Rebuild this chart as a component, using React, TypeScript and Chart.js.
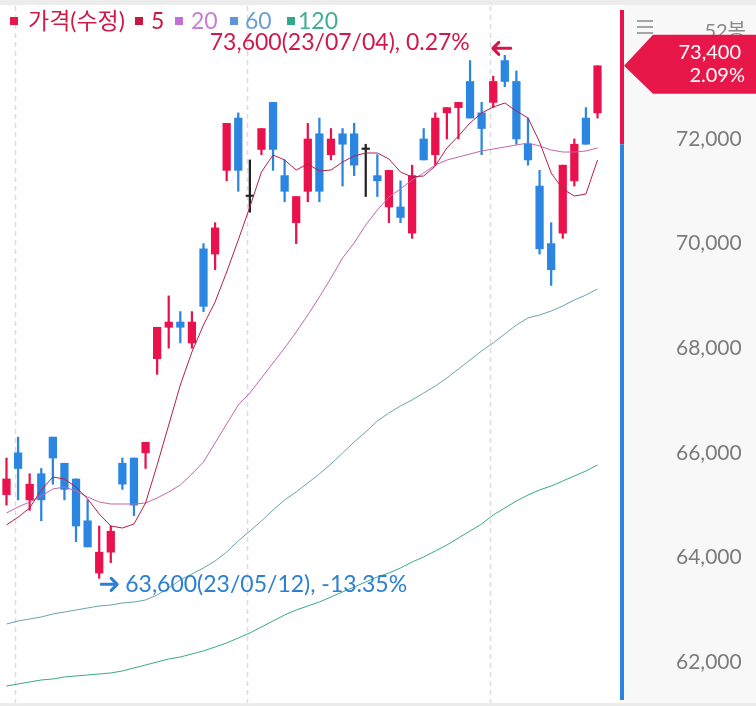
import React, { useEffect, useRef } from 'react';
import { Chart, registerables } from 'chart.js';

Chart.register(...registerables);

// ---- data ----
const dates = [
  '04/28',
  '05/02', '05/03', '05/04', '05/08', '05/09', '05/10', '05/11', '05/12', '05/15', '05/16',
  '05/17', '05/18', '05/19', '05/22', '05/23', '05/24', '05/25', '05/26', '05/30', '05/31',
  '06/01', '06/02', '06/05', '06/07', '06/08', '06/09', '06/12', '06/13', '06/14', '06/15',
  '06/16', '06/19', '06/20', '06/21', '06/22', '06/23', '06/26', '06/27', '06/28', '06/29', '06/30',
  '07/03', '07/04', '07/05', '07/06', '07/07', '07/10', '07/11', '07/12', '07/13', '07/14',
];

const opens = [
  65200, 66000, 65100, 65600, 66300, 65800, 65500, 64700, 63700, 64100,
  65800, 65900, 66000, 67800, 68400, 68500, 68100, 69900, 69800, 71400,
  72400, 70900, 71800, 72700, 71300, 70400, 71000, 72100, 71700, 72100,
  72100, 71800, 71300, 70700, 70700, 70200, 72000, 71700, 72500, 72600,
  73100, 72500, 72700, 73500, 73100, 71900, 71100, 70000, 70200, 71200,
  72400, 72500,
];
const highs = [
  65900, 66300, 65600, 65700, 66300, 65800, 65500, 65100, 64600, 64600,
  65900, 65900, 66200, 68400, 69000, 68700, 68700, 70000, 70400, 72300,
  72500, 71600, 72200, 72700, 71600, 70900, 72300, 72400, 72200, 72200,
  72300, 71900, 71700, 71400, 71200, 71500, 72200, 72500, 72600, 72700,
  73500, 72700, 73200, 73600, 73300, 72400, 71400, 70400, 71500, 72000,
  72600, 73400,
];
const lows = [
  65000, 65100, 64900, 64700, 65400, 65100, 64300, 64200, 63600, 63900,
  65300, 64800, 65700, 67500, 68000, 68100, 68000, 68700, 69500, 71200,
  71000, 70600, 71700, 71400, 70800, 70000, 70800, 70800, 71600, 71100,
  71300, 70900, 70900, 70400, 70400, 70100, 71600, 71500, 72000, 72000,
  72400, 71700, 72600, 73000, 71900, 71500, 69800, 69200, 70100, 71100,
  71900, 72400,
];
const closes = [
  65500, 65700, 65400, 65100, 65900, 65300, 64600, 64200, 64100, 64500,
  65400, 65000, 66200, 68400, 68500, 68400, 68500, 68800, 70300, 72300,
  71400, 70900, 72200, 71800, 71000, 70900, 72000, 71000, 72000, 71900,
  71500, 71800, 71200, 71400, 70500, 71300, 71600, 72400, 72600, 72700,
  72400, 72200, 73100, 73100, 72000, 71600, 69900, 69500, 71500, 71900,
  71900, 73400,
];

const ma5 = [
  64620, 64770, 64945, 65290, 65537, 65499, 65346, 65117, 64830, 64601,
  64562, 64639, 65040, 65767, 66532, 67296, 67927, 68444, 68883, 69457,
  70069, 70700, 71369, 71694, 71598, 71407, 71522, 71388, 71407, 71560,
  71675, 71732, 71732, 71618, 71369, 71273, 71293, 71484, 71828, 72057,
  72306, 72497, 72612, 72688, 72535, 72402, 71943, 71350, 71044, 70910,
  70948, 71598,
];
const ma20 = [
  64849, 64964, 65059, 65174, 65308, 65346, 65270, 65155, 65059, 65021,
  65021, 65021, 65040, 65136, 65251, 65384, 65595, 65824, 66188, 66551,
  66914, 67144, 67430, 67717, 68004, 68310, 68635, 68979, 69342, 69725,
  70012, 70356, 70642, 70891, 71044, 71216, 71350, 71503, 71598, 71656,
  71713, 71771, 71809, 71847, 71885, 71924, 71866, 71790, 71751, 71751,
  71771, 71828,
];
const ma60 = [
  62727, 62784, 62822, 62861, 62918, 62956, 62994, 63033, 63071, 63090,
  63128, 63147, 63186, 63281, 63415, 63568, 63683, 63798, 63931, 64103,
  64314, 64505, 64696, 64906, 65098, 65251, 65423, 65595, 65786, 65996,
  66207, 66398, 66608, 66761, 66895, 67010, 67144, 67277, 67430, 67602,
  67774, 67947, 68100, 68272, 68444, 68578, 68635, 68711, 68807, 68922,
  69017, 69132,
];
const ma120 = [
  61541, 61580, 61618, 61656, 61675, 61713, 61733, 61752, 61771, 61790,
  61828, 61886, 61943, 62000, 62058, 62096, 62153, 62211, 62287, 62364,
  62459, 62555, 62669, 62784, 62899, 62994, 63071, 63147, 63243, 63339,
  63434, 63530, 63626, 63702, 63798, 63912, 64008, 64123, 64237, 64371,
  64505, 64639, 64811, 64945, 65079, 65193, 65289, 65365, 65461, 65557,
  65652, 65767,
];

const tickValues = [62000, 64000, 66000, 68000, 70000, 72000];
const prevClose = 71900;
const lastClose = 73400;
const changeText = '2.09%';
const highIndex = 43;
const highValue = 73600;
const highText = '73,600(23/07/04), 0.27%';
const lowIndex = 8;
const lowValue = 63600;
const lowText = '63,600(23/05/12), -13.35%';
const legendItems = ['가격(수정)', '5', '20', '60', '120'];
const periodText = '52봉';

// ---- styles ----
const UP = '#e9124c';
const DOWN = '#2a86e0';
const FLAT = '#222222';
const FONT = 'Lato, "Noto Sans CJK KR", sans-serif';

export default function App() {
  const ref = useRef<HTMLCanvasElement>(null);

  useEffect(() => {
    if (!ref.current) return;
    const idx = dates.map((_, i) => i);
    const colorOf = (i: number) =>
      closes[i] > opens[i] ? UP : closes[i] < opens[i] ? DOWN : FLAT;
    const monthStarts = idx.filter(
      (i) => i > 0 && dates[i].slice(0, 2) !== dates[i - 1].slice(0, 2)
    );

    const overlay = {
      id: 'overlay',
      beforeDraw(chart: any) {
        const { ctx, width, height, chartArea } = chart;
        ctx.save();
        ctx.fillStyle = '#ffffff';
        ctx.fillRect(0, 0, width, height);
        ctx.fillStyle = '#f8f8f8';
        ctx.fillRect(chartArea.right + 4, 0, width, height);
        ctx.fillStyle = '#ececec';
        ctx.fillRect(0, 0, width, chartArea.top - 1);
        ctx.fillRect(0, chartArea.bottom, width, height - chartArea.bottom);
        ctx.restore();
      },
      beforeDatasetsDraw(chart: any) {
        const { ctx, chartArea } = chart;
        const xs = chart.scales.x;
        ctx.save();
        ctx.strokeStyle = '#dcdcdc';
        ctx.lineWidth = 1.5;
        ctx.setLineDash([5, 4]);
        monthStarts.forEach((i) => {
          const x = Math.round(xs.getPixelForValue(i - 0.27)) + 0.5;
          ctx.beginPath();
          ctx.moveTo(x, chartArea.top);
          ctx.lineTo(x, chartArea.bottom);
          ctx.stroke();
        });
        ctx.restore();
      },
      afterDraw(chart: any) {
        const { ctx, width, chartArea } = chart;
        const xs = chart.scales.x;
        const ys = chart.scales.y;
        ctx.save();

        // up/down bar next to the axis
        const bx = chartArea.right;
        const pcY = ys.getPixelForValue(prevClose);
        ctx.fillStyle = UP;
        ctx.fillRect(bx, chartArea.top + 4, 4, pcY - chartArea.top - 4);
        ctx.fillStyle = DOWN;
        ctx.fillRect(bx, pcY, 4, chartArea.bottom - 3 - pcY);

        // hamburger + period
        ctx.strokeStyle = '#8a8a8a';
        ctx.lineWidth = 1.5;
        [21, 27, 33].forEach((y) => {
          ctx.beginPath();
          ctx.moveTo(637, y);
          ctx.lineTo(653, y);
          ctx.stroke();
        });
        ctx.fillStyle = '#8a8a8a';
        ctx.font = `20px ${FONT}`;
        ctx.textAlign = 'right';
        ctx.textBaseline = 'alphabetic';
        ctx.fillText(periodText, 746, 38);

        // current price box
        const py = ys.getPixelForValue(lastClose);
        ctx.fillStyle = '#e8174a';
        ctx.beginPath();
        ctx.moveTo(bx + 4, py);
        ctx.lineTo(653, py - 31);
        ctx.lineTo(width, py - 31);
        ctx.lineTo(width, py + 28);
        ctx.lineTo(653, py + 28);
        ctx.closePath();
        ctx.fill();
        ctx.fillStyle = '#ffffff';
        ctx.font = `20px ${FONT}`;
        ctx.textAlign = 'right';
        ctx.fillText(lastClose.toLocaleString('en-US'), 741, py - 7);
        ctx.fillText(changeText, 745, py + 16);

        // high annotation
        const hx = xs.getPixelForValue(highIndex);
        const hy = ys.getPixelForValue(highValue);
        const hc = '#d2184a';
        ctx.strokeStyle = hc;
        ctx.lineWidth = 3;
        ctx.lineCap = 'round';
        ctx.lineJoin = 'round';
        const ay = hy - 7;
        ctx.beginPath();
        ctx.moveTo(hx + 6, ay);
        ctx.lineTo(hx - 12, ay);
        ctx.moveTo(hx - 6, ay - 6);
        ctx.lineTo(hx - 12, ay);
        ctx.lineTo(hx - 6, ay + 6);
        ctx.stroke();
        ctx.fillStyle = hc;
        ctx.font = `23px ${FONT}`;
        ctx.textAlign = 'right';
        ctx.fillText(highText, hx - 35, hy - 5);

        // low annotation
        const lx = xs.getPixelForValue(lowIndex);
        const ly = ys.getPixelForValue(lowValue);
        const lc = '#2b7fd4';
        ctx.strokeStyle = lc;
        const by = ly + 6;
        ctx.beginPath();
        ctx.moveTo(lx + 2, by);
        ctx.lineTo(lx + 18, by);
        ctx.moveTo(lx + 12, by - 6);
        ctx.lineTo(lx + 18, by);
        ctx.lineTo(lx + 12, by + 6);
        ctx.stroke();
        ctx.fillStyle = lc;
        ctx.font = `23px ${FONT}`;
        ctx.textAlign = 'left';
        ctx.fillText(lowText, lx + 26, ly + 14);

        // legend
        const sqColors = ['#e8174a', '#c8163e', '#c270d4', '#5f95d2', '#2fa88c'];
        const txtColors = ['#cf1a48', '#c8163e', '#c67fd2', '#6a9fd4', '#3fae98'];
        const sqX = [10, 135, 175, 230, 287];
        const txX = [28, 151, 191, 245, 298];
        ctx.font = `23px ${FONT}`;
        ctx.textAlign = 'left';
        legendItems.forEach((t, i) => {
          ctx.fillStyle = sqColors[i];
          ctx.fillRect(sqX[i], 17, 8, 8);
          ctx.fillStyle = txtColors[i];
          ctx.fillText(t, txX[i], 29);
        });

        ctx.restore();
      },
    };

    const line = (data: number[], color: string) => ({
      type: 'line' as const,
      data: idx.map((i) => ({ x: i, y: data[i] })),
      borderColor: color,
      borderWidth: 1,
      pointRadius: 0,
      tension: 0,
      order: 1,
    });

    const chart = new Chart(ref.current, {
      type: 'bar',
      data: {
        datasets: [
          {
            type: 'bar',
            data: idx.map((i) => ({ x: i, y: [lows[i], highs[i]] })) as any,
            backgroundColor: idx.map(colorOf),
            borderWidth: 0,
            barThickness: 1.6,
            grouped: false,
            order: 3,
          } as any,
          {
            type: 'bar',
            data: idx.map((i) => ({ x: i, y: [opens[i], closes[i]] })) as any,
            backgroundColor: idx.map(colorOf),
            borderWidth: 0,
            barThickness: 7.6,
            minBarLength: 1.5,
            grouped: false,
            order: 2,
          } as any,
          line(ma5, '#b3204a'),
          line(ma20, '#c466ae'),
          line(ma60, '#6aa3ad'),
          line(ma120, '#3aa88f'),
        ],
      },
      options: {
        responsive: false,
        animation: false,
        devicePixelRatio: 1,
        layout: { padding: { top: 6, bottom: 3, left: 0, right: 0 } },
        plugins: { legend: { display: false }, tooltip: { enabled: false } },
        scales: {
          x: {
            type: 'linear',
            min: -0.56,
            max: 52.94,
            display: false,
            offset: false,
          },
          y: {
            position: 'right',
            min: 61216,
            max: 74543,
            afterBuildTicks: (s: any) => {
              s.ticks = tickValues.map((v) => ({ value: v }));
            },
            afterFit: (s: any) => {
              s.width = 136;
              s.paddingTop = 0;
              s.paddingBottom = 0;
            },
            grid: { display: false, drawTicks: false },
            border: { display: false },
            ticks: {
              padding: 56,
              color: '#7c7c7c',
              font: { family: FONT, size: 21 },
              callback: (v: any) => Number(v).toLocaleString('en-US'),
            },
          },
        },
      } as any,
      plugins: [overlay],
    });
    return () => chart.destroy();
  }, []);

  return (
    <div style={{ position: 'absolute', left: 0, top: 0, width: 756, height: 706 }}>
      <canvas ref={ref} width={756} height={706} />
    </div>
  );
}
